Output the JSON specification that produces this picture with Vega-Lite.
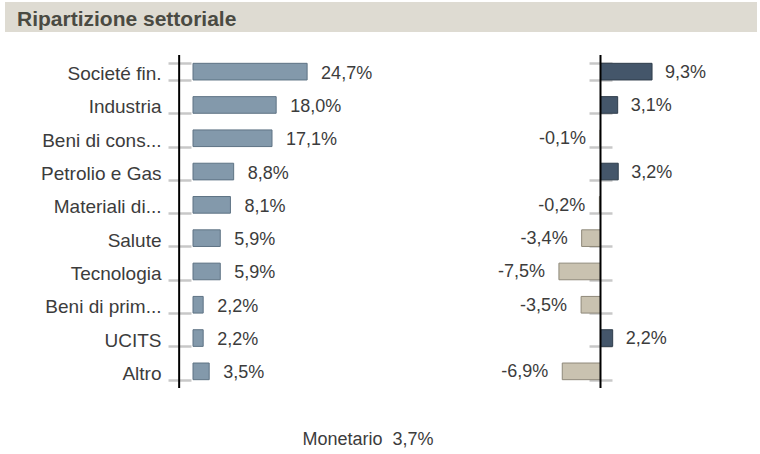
{
  "$schema": "https://vega.github.io/schema/vega-lite/v6.json",
  "padding": {"left": 5, "top": 2, "right": 0, "bottom": 0},
  "autosize": {"type": "pad"},
  "bounds": "flush",
  "spacing": 23,
  "config": {"font": "Liberation Sans", "view": {"stroke": null}},
  "datasets": {
    "sectors": [
      {"cat": "Societé fin.", "w": 24.7, "wl": "24,7%", "d": 9.3, "dl": "9,3%"},
      {"cat": "Industria", "w": 18.0, "wl": "18,0%", "d": 3.1, "dl": "3,1%"},
      {"cat": "Beni di cons...", "w": 17.1, "wl": "17,1%", "d": -0.1, "dl": "-0,1%"},
      {"cat": "Petrolio e Gas", "w": 8.8, "wl": "8,8%", "d": 3.2, "dl": "3,2%"},
      {"cat": "Materiali di...", "w": 8.1, "wl": "8,1%", "d": -0.2, "dl": "-0,2%"},
      {"cat": "Salute", "w": 5.9, "wl": "5,9%", "d": -3.4, "dl": "-3,4%"},
      {"cat": "Tecnologia", "w": 5.9, "wl": "5,9%", "d": -7.5, "dl": "-7,5%"},
      {"cat": "Beni di prim...", "w": 2.2, "wl": "2,2%", "d": -3.5, "dl": "-3,5%"},
      {"cat": "UCITS", "w": 2.2, "wl": "2,2%", "d": 2.2, "dl": "2,2%"},
      {"cat": "Altro", "w": 3.5, "wl": "3,5%", "d": -6.9, "dl": "-6,9%"}
    ]
  },
  "vconcat": [
    {
      "width": 752,
      "height": 30,
      "view": {"fill": "#dedbd2", "stroke": null},
      "data": {"values": [{"t": "Ripartizione settoriale"}]},
      "mark": {"type": "text", "align": "left", "baseline": "alphabetic", "fontSize": 21, "fontWeight": "bold", "color": "#4a4a42"},
      "encoding": {
        "text": {"field": "t"},
        "x": {"datum": 12, "type": "quantitative", "scale": {"domain": [0, 752]}, "axis": null},
        "y": {"datum": 0.2, "type": "quantitative", "scale": {"domain": [0, 1]}, "axis": null}
      }
    },
    {
      "width": 752,
      "height": 333,
      "resolve": {"scale": {"x": "independent"}, "axis": {"y": "independent"}},
      "layer": [
        {
          "data": {"name": "sectors"},
          "mark": {"type": "bar", "fill": "#8399ab", "stroke": "#5e7384", "strokeWidth": 1},
          "encoding": {
            "y": {"field": "cat", "type": "nominal", "sort": null, "scale": {"paddingInner": 0.5, "paddingOuter": 0.25},
              "axis": {"orient": "left", "title": null, "domain": false, "ticks": true, "tickBand": "extent", "tickSize": 23, "tickWidth": 2.5, "tickColor": "#c8c8c8", "offset": -186, "labelPadding": 7, "labelOffset": 2, "labelFontSize": 19, "labelColor": "#3c3c3c", "labelFont": "Liberation Sans", "labelLimit": 300}},
            "x": {"field": "w", "type": "quantitative", "scale": {"domain": [-40.7, 122.09]}, "axis": null}
          }
        },
        {
          "data": {"name": "sectors"},
          "mark": {"type": "text", "align": "left", "baseline": "middle", "dx": 14, "dy": 2, "fontSize": 18, "color": "#3c3c3c"},
          "encoding": {
            "y": {"field": "cat", "type": "nominal", "sort": null, "axis": null},
            "x": {"field": "w", "type": "quantitative", "scale": {"domain": [-40.7, 122.09]}, "axis": null},
            "text": {"field": "wl"}
          }
        },
        {
          "data": {"values": [{}]},
          "mark": {"type": "rule", "color": "#000000", "strokeWidth": 2},
          "encoding": {
            "x": {"datum": -3, "type": "quantitative", "scale": {"domain": [-40.7, 122.09]}, "axis": null}
          }
        },
        {
          "data": {"name": "sectors"},
          "mark": {"type": "bar", "strokeWidth": 1},
          "encoding": {
            "y": {"field": "cat", "type": "nominal", "sort": null,
              "axis": {"orient": "right", "title": null, "domain": false, "labels": false, "ticks": true, "tickBand": "extent", "tickSize": 23, "tickWidth": 2.5, "tickColor": "#c8c8c8", "offset": -168}},
            "x": {"field": "d", "type": "quantitative", "scale": {"domain": [-107.45, 28.24]}, "axis": null},
            "fill": {"condition": {"test": "datum.d >= 0", "value": "#44566a"}, "value": "#c9c2b0"},
            "stroke": {"condition": {"test": "datum.d >= 0", "value": "#2f3d4b"}, "value": "#8f897a"}
          }
        },
        {
          "data": {"name": "sectors"},
          "transform": [{"filter": "datum.d >= 0"}],
          "mark": {"type": "text", "align": "left", "baseline": "middle", "dx": 13, "dy": 1, "fontSize": 18, "color": "#3c3c3c"},
          "encoding": {
            "y": {"field": "cat", "type": "nominal", "sort": null, "axis": null},
            "x": {"field": "d", "type": "quantitative", "scale": {"domain": [-107.45, 28.24]}, "axis": null},
            "text": {"field": "dl"}
          }
        },
        {
          "data": {"name": "sectors"},
          "transform": [{"filter": "datum.d < 0"}],
          "mark": {"type": "text", "align": "right", "baseline": "middle", "dx": -14, "dy": 1, "fontSize": 18, "color": "#3c3c3c"},
          "encoding": {
            "y": {"field": "cat", "type": "nominal", "sort": null, "axis": null},
            "x": {"field": "d", "type": "quantitative", "scale": {"domain": [-107.45, 28.24]}, "axis": null},
            "text": {"field": "dl"}
          }
        },
        {
          "data": {"values": [{}]},
          "mark": {"type": "rule", "color": "#000000", "strokeWidth": 2},
          "encoding": {
            "x": {"datum": 0, "type": "quantitative", "scale": {"domain": [-107.45, 28.24]}, "axis": null}
          }
        }
      ]
    },
    {
      "width": 752,
      "height": 43,
      "data": {"values": [{"t": "Monetario\u00a0 3,7%"}]},
      "mark": {"type": "text", "align": "center", "baseline": "alphabetic", "fontSize": 18, "color": "#3c3c3c"},
      "encoding": {
        "text": {"field": "t"},
        "x": {"datum": 363, "type": "quantitative", "scale": {"domain": [0, 752]}, "axis": null},
        "y": {"datum": 0.209, "type": "quantitative", "scale": {"domain": [0, 1]}, "axis": null}
      }
    }
  ]
}
